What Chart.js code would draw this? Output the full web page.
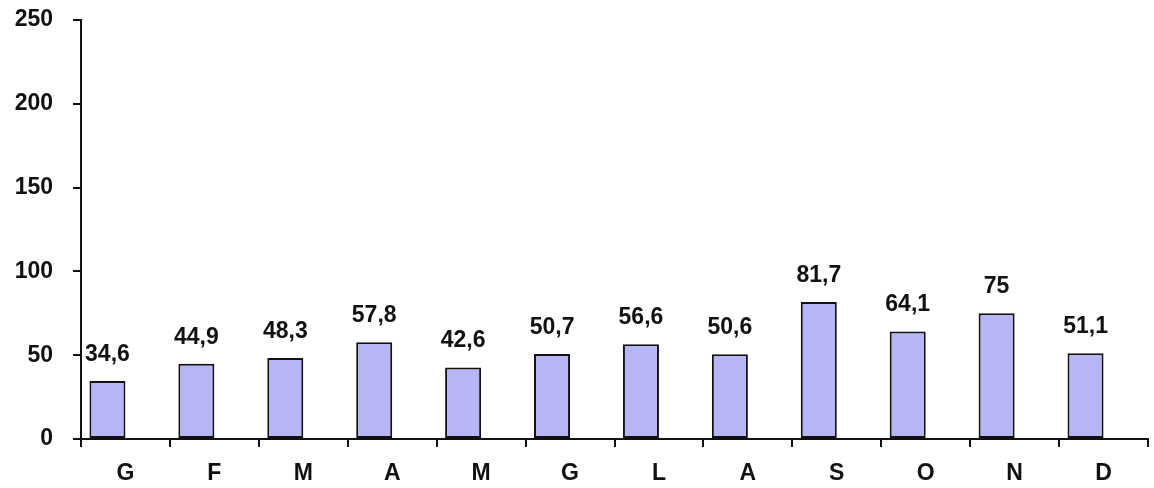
<!DOCTYPE html>
<html>
<head>
<meta charset="utf-8">
<script src="https://cdn.jsdelivr.net/npm/chart.js@4/dist/chart.umd.min.js"></script>
<style>
  html, body { margin: 0; padding: 0; background: #fff; }
  #wrap { position: relative; width: 1154px; height: 488px; }
</style>
</head>
<body>
<div id="wrap"><canvas id="grafico"></canvas></div>
<script>
// mesi dell'anno
const mesi = ['G', 'F', 'M', 'A', 'M', 'G', 'L', 'A', 'S', 'O', 'N', 'D'];
// valori mensili
const valori = [34.6, 44.9, 48.3, 57.8, 42.6, 50.7, 56.6, 50.6, 81.7, 64.1, 75, 51.1];
// tacche dell'asse y
const tickY = [0, 50, 100, 150, 200, 250];

const fontBase = { family: '"Liberation Sans", Arial, sans-serif', weight: 'bold', size: 23 };

// etichette sopra le barre, con la virgola decimale
const etichetteBarre = {
    id: 'etichetteBarre',
    afterDatasetsDraw(chart) {
        const ctx = chart.ctx;
        const meta = chart.getDatasetMeta(0);
        ctx.save();
        ctx.font = 'bold 23px "Liberation Sans", Arial, sans-serif';
        ctx.fillStyle = '#111';
        ctx.textAlign = 'center';
        ctx.textBaseline = 'bottom';
        meta.data.forEach((bar, i) => {
            const testo = String(valori[i]).replace('.', ',');
            ctx.fillText(testo, bar.x, bar.y - 15);
        });
        ctx.restore();
    }
};

new Chart(document.getElementById('grafico'), {
    type: 'bar',
    data: {
        labels: mesi,
        datasets: [{
            data: valori,
            backgroundColor: '#b6b6f6',
            borderColor: '#111',
            borderWidth: 2,
            borderSkipped: false
        }, {
            // serie vuota: sposta le barre a sinistra del centro
            data: mesi.map(() => null)
        }]
    },
    options: {
        responsive: true,
        maintainAspectRatio: false,
        animation: false,
        categoryPercentage: 0.81,
        barPercentage: 1,
        layout: { padding: { top: 20, right: 6, left: 0, bottom: 0 } },
        plugins: {
            legend: { display: false },
            tooltip: { enabled: false }
        },
        scales: {
            x: {
                grid: { drawOnChartArea: false, drawTicks: true, tickLength: 8, color: '#111', lineWidth: 2 },
                border: { color: '#111', width: 2 },
                ticks: { color: '#111', font: fontBase, padding: 13, maxRotation: 0 },
                afterFit: s => { s.height = 49; s.paddingLeft = 0; s.paddingRight = 0; }
            },
            y: {
                min: 0,
                max: 250,
                afterBuildTicks: s => { s.ticks = tickY.map(v => ({ value: v })); },
                grid: { drawOnChartArea: false, drawTicks: true, tickLength: 8, color: '#111', lineWidth: 2 },
                border: { color: '#111', width: 2 },
                ticks: { color: '#111', font: fontBase, padding: 20 },
                afterFit: s => { s.width = 81; s.paddingTop = 0; s.paddingBottom = 0; }
            }
        }
    },
    plugins: [etichetteBarre]
});
</script>
</body>
</html>
